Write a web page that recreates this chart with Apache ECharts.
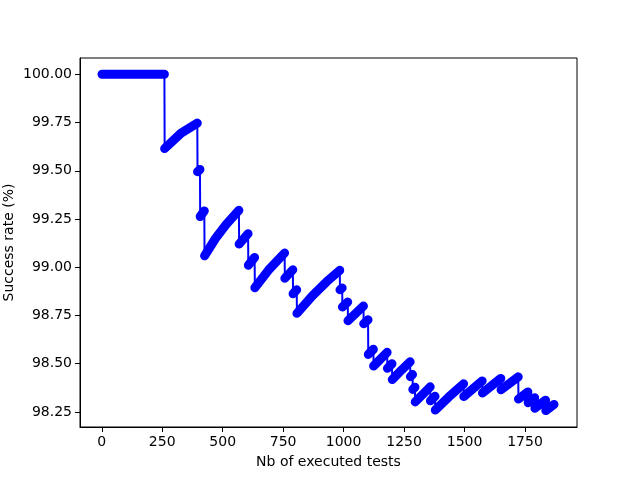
<!DOCTYPE html>
<html><head><meta charset="utf-8">
<script src="https://cdn.jsdelivr.net/npm/echarts@6/dist/echarts.min.js"></script>
<style>html,body{margin:0;padding:0;background:#fff}#c{width:640px;height:480px}</style>
</head><body><div id="c"></div>
<script>
// Key points (test number, success rate %), grouped by failure count
const nbTests = [1,259, 260,328,395, 396,406, 407,424, 425,470,515,567, 568,605, 606,632, 633,690,756,
  757,790, 791,806, 807,870,930,984, 985,994, 995,1017, 1018,1082, 1083,1101, 1102,1123, 1124,1180,
  1181,1200, 1201,1240,1275, 1276,1285, 1286,1295, 1296,1358, 1359,1378, 1379,1435,1496, 1497,1573,
  1574,1650, 1651,1722, 1723,1762, 1763,1790, 1791,1835, 1836,1870];
const successRate = [100,100, 99.615,99.695,99.747, 99.495,99.507, 99.263,99.292, 99.059,99.149,99.223,99.295, 99.120,99.174, 99.010,99.051, 98.894,98.986,99.074,
  98.943,98.987, 98.862,98.883, 98.761,98.851,98.925,98.984, 98.883,98.893, 98.794,98.820, 98.723,98.799, 98.707,98.728, 98.548,98.575, 98.488,98.559,
  98.476,98.500, 98.418,98.468,98.510, 98.433,98.444, 98.367,98.378, 98.302,98.380, 98.308,98.331, 98.260,98.328,98.396, 98.330,98.411,
  98.348,98.424, 98.365,98.432, 98.317,98.354, 98.298,98.324, 98.269,98.311, 98.257,98.289];
const failures = [0,0, 1,1,1, 2,2, 3,3, 4,4,4,4, 5,5, 6,6, 7,7,7,
  8,8, 9,9, 10,10,10,10, 11,11, 12,12, 13,13, 14,14, 16,16, 17,17,
  18,18, 19,19,19, 20,20, 21,21, 22,22, 23,23, 24,24,24, 25,25,
  26,26, 27,27, 29,29, 30,30, 31,31, 32,32];
const xTicks = [0,250,500,750,1000,1250,1500,1750];
const yTicks = [98.25,98.5,98.75,99,99.25,99.5,99.75,100];

const linePts = nbTests.map((n, i) => [n, successRate[i]]);
const bandPts = [];
for (let i = 0; i < nbTests.length; i++) {
  if (i > 0 && failures[i] !== failures[i - 1]) bandPts.push([nbTests[i], '-']);
  bandPts.push([nbTests[i], successRate[i]]);
}
const font = 'DejaVu Sans';
const chart = echarts.init(document.getElementById('c'), null, {renderer: 'canvas'});
chart.setOption({
  animation: false,
  backgroundColor: '#fff',
  grid: {left: 80, top: 58, right: 63, bottom: 53, outerBoundsMode: 'none', containLabel: false,
    show: true, borderColor: '#000', borderWidth: 1, backgroundColor: 'transparent'},
  xAxis: {
    type: 'value', min: -90, max: 1965,
    axisLine: {show: true, onZero: false, lineStyle: {color: '#000', width: 1}},
    axisTick: {show: true, length: 5, inside: false, lineStyle: {color: '#000', width: 1}, customValues: xTicks},
    axisLabel: {customValues: xTicks, color: '#000', fontSize: 14, margin: 8, fontFamily: font,
      formatter: v => String(v)},
    splitLine: {show: false},
    name: 'Nb of executed tests', nameLocation: 'middle', nameGap: 28, nameMoveOverlap: false,
    nameTextStyle: {color: '#000', fontSize: 14, fontFamily: font}
  },
  yAxis: {
    type: 'value', min: 98.172, max: 100.0845,
    axisLine: {show: true, onZero: false, lineStyle: {color: '#000', width: 1}},
    axisTick: {show: true, length: 5, inside: false, lineStyle: {color: '#000', width: 1}, customValues: yTicks},
    axisLabel: {customValues: yTicks, color: '#000', fontSize: 14, margin: 8, fontFamily: font,
      formatter: v => Number(v).toFixed(2)},
    splitLine: {show: false},
    name: 'Success rate (%)', nameLocation: 'middle', nameGap: 64, nameMoveOverlap: false,
    nameTextStyle: {color: '#000', fontSize: 14, fontFamily: font}
  },
  series: [
    {type: 'line', data: bandPts, symbol: 'none', connectNulls: false, silent: true,
      lineStyle: {color: '#0000ff', width: 9, cap: 'round', join: 'round'}, z: 2},
    {type: 'line', data: linePts, symbol: 'none', silent: true,
      lineStyle: {color: '#0000ff', width: 2}, z: 3}
  ]
});
</script>
</body></html>
